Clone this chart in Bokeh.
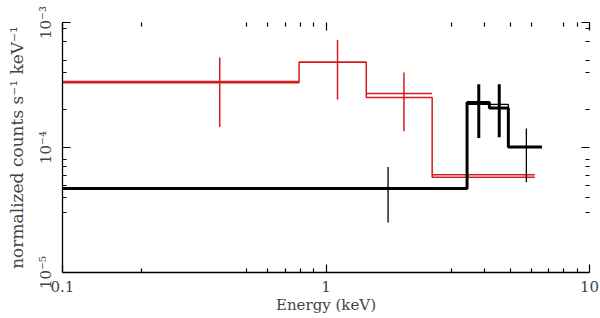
import math
from bokeh.plotting import figure
from bokeh.models import LogAxis, FixedTicker, Range1d, CustomJSTickFormatter, ColumnDataSource
from bokeh.embed import file_html
from bokeh.resources import INLINE

nan = float("nan")

# ---- data ----
# red spectrum: bins, data, errors, model
red_lo = [0.1, 0.790, 1.422, 2.529]
red_hi = [0.790, 1.422, 2.529, 6.20]
red_x = [0.395, 1.106, 1.976, 4.36]
red_y = [3.38e-4, 4.80e-4, 2.70e-4, 6.05e-5]
red_ylo = [1.46e-4, 2.42e-4, 1.346e-4, nan]
red_yhi = [5.26e-4, 7.24e-4, 3.98e-4, nan]
red_model = [3.30e-4, 4.80e-4, 2.51e-4, 5.79e-5]

# black spectrum
blk_lo = [0.1, 3.43, 4.17, 4.92]
blk_hi = [3.43, 4.17, 4.92, 6.60]
blk_x = [1.72, 3.80, 4.545, 5.76]
blk_y = [4.70e-5, 2.29e-4, 2.07e-4, 1.007e-4]
blk_ylo = [2.51e-5, 1.19e-4, 1.21e-4, 5.28e-5]
blk_yhi = [6.97e-5, 3.21e-4, 3.21e-4, 1.42e-4]
blk_model = [4.70e-5, 2.21e-4, 2.21e-4, 1.007e-4]

x_major = [0.1, 1, 10]
x_minor = [0.2, 0.5, 0.6, 0.7, 0.8, 0.9, 3, 4, 5, 6, 7, 8, 9]
y_major = [1e-5, 1e-4, 1e-3]
y_minor = [3e-5, 4e-5, 5e-5, 6e-5, 7e-5, 8e-5, 2e-4, 4e-4, 5e-4, 7e-4, 9e-4]

# styles
RED = "#d41c1c"
blk_err_width = [1.3, 3, 3, 1.3]
FONT = "DejaVu Serif"


def step_path(lo, hi, vals):
    xs, ys = [], []
    for a, b, v in zip(lo, hi, vals):
        xs += [a, b]
        ys += [v, v]
    return xs, ys


p = figure(width=600, height=318, x_axis_type="log", y_axis_type="log",
           x_range=Range1d(0.1, 10), y_range=Range1d(1e-5, 1e-3),
           output_backend="svg", toolbar_location=None,
           min_border_left=62, min_border_right=11, min_border_top=22, min_border_bottom=46)
p.grid.visible = False
p.outline_line_color = None
p.background_fill_color = "white"
p.border_fill_color = "white"

x_fmt = CustomJSTickFormatter(code="return tick >= 1 ? tick.toFixed(0) : tick.toFixed(1);")
y_fmt = CustomJSTickFormatter(code="""
const e = Math.round(Math.log10(tick));
const m = {"-":"\u207b","0":"\u2070","1":"\u00b9","2":"\u00b2","3":"\u00b3","4":"\u2074","5":"\u2075","6":"\u2076","7":"\u2077","8":"\u2078","9":"\u2079"};
return "10" + String(e).split("").map(c => m[c]).join("");
""")
blank_fmt = CustomJSTickFormatter(code="return ' ';")


def style_ticks(ax):
    ax.major_tick_in = 8
    ax.major_tick_out = 0
    ax.minor_tick_in = 4
    ax.minor_tick_out = 0
    ax.major_tick_line_color = "black"
    ax.minor_tick_line_color = "black"
    ax.major_tick_line_width = 1.2
    ax.minor_tick_line_width = 1.2


xa = p.xaxis[0]
xa.ticker = FixedTicker(ticks=x_major, minor_ticks=x_minor)
xa.formatter = x_fmt
style_ticks(xa)
xa.axis_line_width = 1.3
xa.axis_label = "Energy (keV)"
xa.axis_label_text_font = FONT
xa.axis_label_text_font_style = "normal"
xa.axis_label_text_font_size = "15px"
xa.axis_label_standoff = 1
xa.major_label_text_font = FONT
xa.major_label_text_font_size = "15px"
xa.major_label_standoff = 8

ya = p.yaxis[0]
ya.ticker = FixedTicker(ticks=y_major, minor_ticks=y_minor)
ya.formatter = y_fmt
style_ticks(ya)
ya.axis_line_width = 1.3
ya.major_label_orientation = "vertical"
ya.axis_label = "normalized counts s\u207b\u00b9 keV\u207b\u00b9"
ya.axis_label_text_font = FONT
ya.axis_label_text_font_style = "normal"
ya.axis_label_text_font_size = "17px"
ya.axis_label_standoff = 7
ya.major_label_text_font = FONT
ya.major_label_text_font_size = "15px"
ya.major_label_standoff = 8

right = LogAxis(ticker=FixedTicker(ticks=y_major, minor_ticks=y_minor),
                formatter=blank_fmt, axis_line_color=None,
                major_label_text_font_size="1px", major_label_text_color=None,
                major_label_standoff=0)
style_ticks(right)
p.add_layout(right, "right")

top = LogAxis(ticker=FixedTicker(ticks=x_major, minor_ticks=[t for t in x_minor if t != 7]),
              formatter=blank_fmt, axis_line_color=None,
              major_label_text_font_size="1px", major_label_text_color=None,
              major_label_standoff=0)
style_ticks(top)
p.add_layout(top, "above")

# ---- red spectrum ----
rx, ry = step_path(red_lo, red_hi, red_model)
p.line(rx, ry, line_color=RED, line_width=1.5)
p.segment(x0=red_lo, y0=red_y, x1=red_hi, y1=red_y, line_color=RED, line_width=1.5)
ok = [i for i in range(len(red_x)) if not math.isnan(red_ylo[i])]
p.segment(x0=[red_x[i] for i in ok], y0=[red_ylo[i] for i in ok],
          x1=[red_x[i] for i in ok], y1=[red_yhi[i] for i in ok],
          line_color=RED, line_width=1.5)

# ---- black spectrum ----
bx, by = step_path(blk_lo, blk_hi, blk_model)
p.line(bx, by, line_color="black", line_width=1.3)
dx, dy = step_path(blk_lo, blk_hi, blk_y)
p.line(dx, dy, line_color="black", line_width=3)
src = ColumnDataSource(dict(x=blk_x, lo=blk_ylo, hi=blk_yhi, w=blk_err_width))
p.segment(x0="x", y0="lo", x1="x", y1="hi", line_width="w", line_color="black", source=src)

open("out.html", "w").write(file_html(p, INLINE))
